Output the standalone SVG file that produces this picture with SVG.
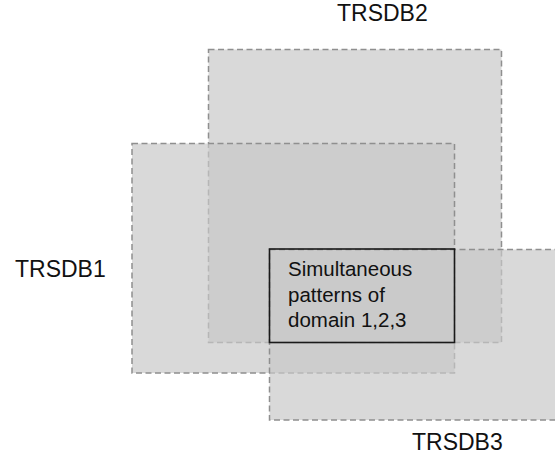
<svg xmlns="http://www.w3.org/2000/svg" width="555" height="462" viewBox="0 0 555 462">
  <style>
    .set { fill: #c8c8c8; fill-opacity: 0.69; stroke: #8f8f8f; stroke-width: 1.5; stroke-dasharray: 6 3.5; }
    .core { fill: none; stroke: #1a1a1a; stroke-width: 1.6; }
    .lbl { font-family: "Liberation Sans", Arial, sans-serif; font-size: 23px; fill: #111; }
    .txt { font-family: "Liberation Sans", Arial, sans-serif; font-size: 20.5px; fill: #111; }
  </style>
  <rect x="0" y="0" width="555" height="462" fill="#ffffff"/>
  <g id="trsdb2">
    <rect class="set" x="208.5" y="49.5" width="293" height="293"/>
    <text class="lbl" x="337" y="21">TRSDB2</text>
  </g>
  <g id="trsdb1">
    <rect class="set" x="132" y="143.5" width="322.5" height="229.5"/>
    <text class="lbl" x="15" y="277">TRSDB1</text>
  </g>
  <g id="trsdb3">
    <rect class="set" x="269.5" y="249.5" width="300" height="170.5"/>
    <text class="lbl" x="412" y="450">TRSDB3</text>
  </g>
  <g id="intersection">
    <rect class="core" x="269.5" y="249" width="185" height="93.5"/>
    <text class="txt" x="288" y="276">Simultaneous</text>
    <text class="txt" x="288" y="301.5">patterns of</text>
    <text class="txt" x="288" y="327">domain 1,2,3</text>
  </g>
  <g id="connectors"/>
</svg>
